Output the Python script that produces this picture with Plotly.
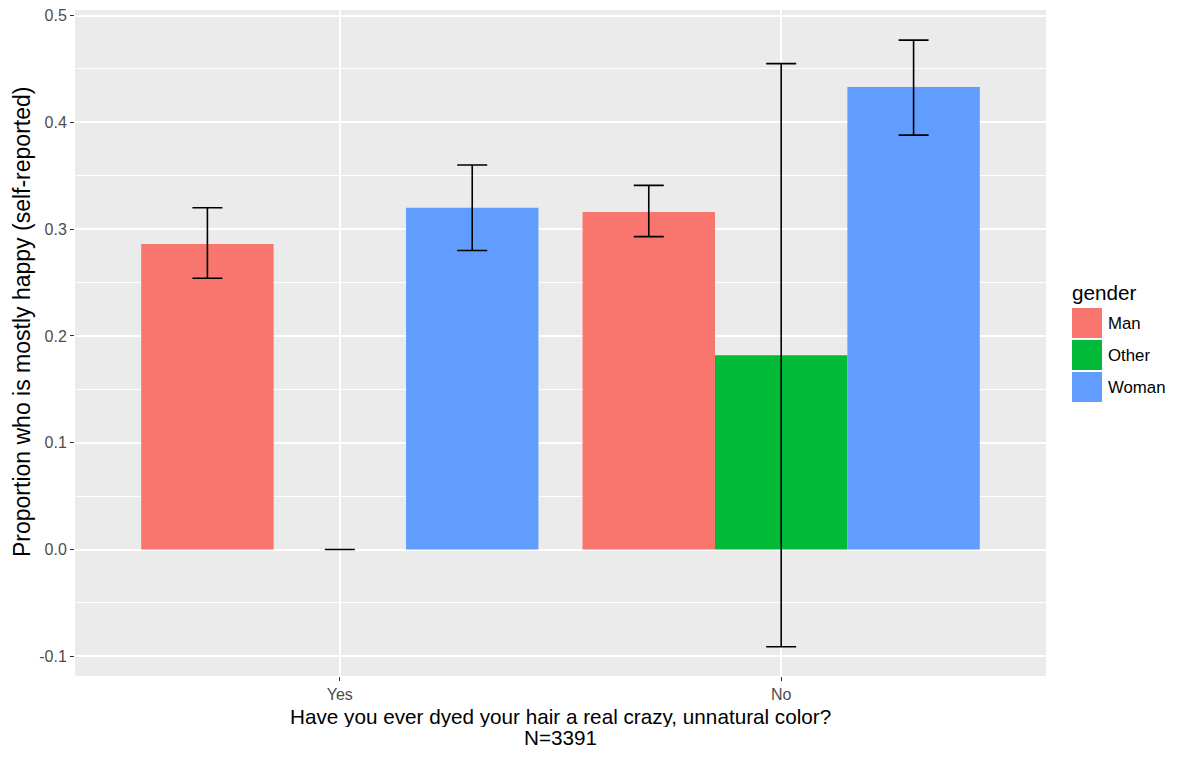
import plotly.graph_objects as go

categories = ["Yes", "No"]
genders = ["Man", "Other", "Woman"]
colors = ["#F8766D", "#00BA38", "#619CFF"]
values = {
    "Man": [0.286, 0.316],
    "Other": [0.0, 0.182],
    "Woman": [0.320, 0.433],
}
lower = {
    "Man": [0.254, 0.293],
    "Other": [0.0, -0.091],
    "Woman": [0.280, 0.388],
}
upper = {
    "Man": [0.320, 0.341],
    "Other": [0.0, 0.455],
    "Woman": [0.360, 0.477],
}
y_ticks = [-0.1, 0.0, 0.1, 0.2, 0.3, 0.4, 0.5]
y_tick_labels = ["-0.1", "0.0", "0.1", "0.2", "0.3", "0.4", "0.5"]
x_title_lines = ["Have you ever dyed your hair a real crazy, unnatural color?", "N=3391"]
y_title = "Proportion who is mostly happy (self-reported)"
legend_title = "gender"

FONT = "Liberation Sans, Arial, sans-serif"
OFF = 8  # page body margin
W, H = 1200 - OFF, 758 - OFF
# panel edges in page pixels
PL, PR, PT, PB = 75, 1046, 10, 676
L, R, T, B = PL - OFF, PR - OFF, PT - OFF, PB - OFF

fig = go.Figure()
for g, c in zip(genders, colors):
    v = values[g]
    fig.add_trace(go.Bar(
        name=g, x=categories, y=v, marker=dict(color=c, line=dict(width=0)),
        error_y=dict(type="data", symmetric=False,
                     array=[u - a for u, a in zip(upper[g], v)],
                     arrayminus=[a - lo for a, lo in zip(v, lower[g])],
                     color="black", thickness=1.6, width=15),
        showlegend=False,
    ))

def px2x(px):
    return (px - PL) / (PR - PL)

def px2y(py):
    return (PB - py) / (PB - PT)

TITLE_SIZE = 20.7
shapes = []
annotations = []
# legend
annotations.append(dict(text=legend_title, xref="paper", yref="paper", x=px2x(1070), y=px2y(292),
                        xanchor="left", yanchor="middle", showarrow=False,
                        font=dict(family=FONT, size=TITLE_SIZE, color="black")))
for i, (g, c) in enumerate(zip(genders, colors)):
    top = 308 + i * 32
    shapes.append(dict(type="rect", xref="paper", yref="paper",
                       x0=px2x(1072), x1=px2x(1102), y0=px2y(top), y1=px2y(top + 30),
                       fillcolor=c, line=dict(width=0)))
    annotations.append(dict(text=g, xref="paper", yref="paper", x=px2x(1106), y=px2y(top + 15),
                            xanchor="left", yanchor="middle", showarrow=False,
                            font=dict(family=FONT, size=16.8, color="black")))
# axis titles
annotations.append(dict(text=x_title_lines[0], xref="paper", yref="paper", x=0.5, y=px2y(716),
                        xanchor="center", yanchor="middle", showarrow=False, height=21,
                        font=dict(family=FONT, size=TITLE_SIZE, color="black")))
annotations.append(dict(text=x_title_lines[1], xref="paper", yref="paper", x=0.5, y=px2y(737.5),
                        xanchor="center", yanchor="middle", showarrow=False, height=21,
                        font=dict(family=FONT, size=TITLE_SIZE, color="black")))
annotations.append(dict(text=y_title, xref="paper", yref="paper", x=px2x(22), y=px2y(322),
                        xanchor="center", yanchor="middle", showarrow=False, textangle=-90,
                        font=dict(family=FONT, size=23, color="black")))

fig.update_layout(
    width=W, height=H,
    margin=dict(l=L, r=W - R, t=T, b=H - B, autoexpand=False),
    paper_bgcolor="white", plot_bgcolor="#EBEBEB",
    barmode="group", bargap=0.1, bargroupgap=0,
    font=dict(family=FONT),
    shapes=shapes, annotations=annotations,
)
fig.update_xaxes(
    type="category", range=[-0.6, 1.6], showgrid=True, gridcolor="white", gridwidth=2,
    ticks="outside", ticklen=4, tickcolor="#333333", tickwidth=1,
    tickfont=dict(family=FONT, size=16, color="#4D4D4D"), zeroline=False, showline=False,
)
fig.update_yaxes(
    range=[-0.1184, 0.5052], tickvals=y_ticks, ticktext=y_tick_labels,
    showgrid=True, gridcolor="white", gridwidth=2, ticklabeloverflow="allow",
    minor=dict(dtick=0.05, tick0=0, showgrid=True, gridcolor="white", gridwidth=1, ticks=""),
    ticks="outside", ticklen=4, tickcolor="#333333", tickwidth=1,
    tickfont=dict(family=FONT, size=16, color="#4D4D4D"), zeroline=False, showline=False,
)

fig.write_html("out.html")
